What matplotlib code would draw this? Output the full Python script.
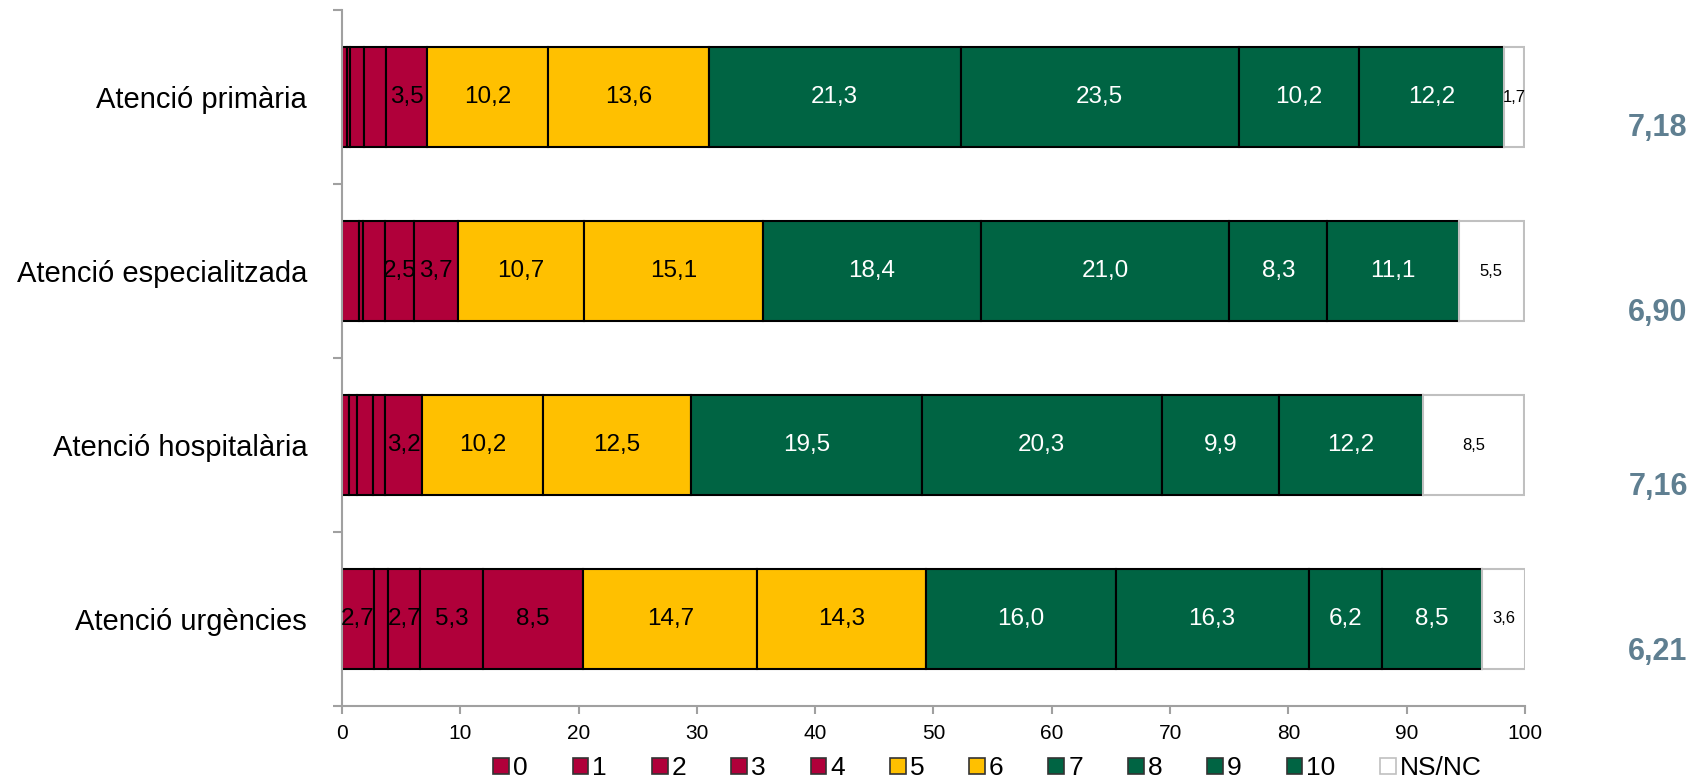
import matplotlib.pyplot as plt
from matplotlib.patches import Patch
from matplotlib.transforms import blended_transform_factory

plt.rcParams['font.family'] = ['Liberation Sans', 'DejaVu Sans']

# Satisfaction scores (0-10 and NS/NC), percentage of respondents per service
categories = ['Atenció primària', 'Atenció especialitzada',
              'Atenció hospitalària', 'Atenció urgències']
scores = ['0', '1', '2', '3', '4', '5', '6', '7', '8', '9', '10', 'NS/NC']
primaria = [0.4, 0.3, 1.2, 1.8, 3.5, 10.2, 13.6, 21.3, 23.5, 10.2, 12.2, 1.7]
especialitzada = [1.4, 0.4, 1.8, 2.5, 3.7, 10.7, 15.1, 18.4, 21.0, 8.3, 11.1, 5.5]
hospitalaria = [0.6, 0.7, 1.3, 1.0, 3.2, 10.2, 12.5, 19.5, 20.3, 9.9, 12.2, 8.5]
urgencies = [2.7, 1.2, 2.7, 5.3, 8.5, 14.7, 14.3, 16.0, 16.3, 6.2, 8.5, 3.6]
means = [7.18, 6.90, 7.16, 6.21]

rows = [primaria, especialitzada, hospitalaria, urgencies]

red, yellow, green = '#B0003A', '#FFC000', '#006443'
colors = [red] * 5 + [yellow] * 2 + [green] * 4 + ['white']
edges = ['black'] * 11 + ['#C0C0C0']
txt_colors = ['black'] * 7 + ['white'] * 4 + ['black']

fig = plt.figure(figsize=(17.03, 7.84), dpi=100)
ax = fig.add_axes([0.2008, 0.0995, 0.6947, 0.8877])

for i, row in enumerate(rows):
    left = 0
    for j, v in enumerate(row):
        ax.barh(i, v, left=left, height=0.575, color=colors[j],
                edgecolor=edges[j], linewidth=1.5)
        if v >= 2 or j == 11:
            fs = 12 if j == 11 else 17.5
            ax.text(left + v / 2, i, f'{v:.1f}'.replace('.', ','),
                    ha='center', va='center', fontsize=fs, color=txt_colors[j])
        left += v

ax.set_xlim(0, 100)
ax.set_ylim(3.5, -0.5)
ax.set_xticks(range(0, 101, 10))
ax.tick_params(axis='x', labelsize=15, length=6, width=1.5, color='#A0A0A0', pad=7)
ax.set_yticks(range(len(categories)))
ax.set_yticklabels(categories, fontsize=21)
ax.tick_params(axis='y', length=0, pad=25)
ax.set_yticks([-0.5, 0.5, 1.5, 2.5, 3.5], minor=True)
ax.tick_params(axis='y', which='minor', length=6.5, width=1.5, color='#A0A0A0')

for s in ['top', 'right']:
    ax.spines[s].set_visible(False)
for s in ['left', 'bottom']:
    ax.spines[s].set_color('#A0A0A0')
    ax.spines[s].set_linewidth(1.5)

# mean score shown at the right of each bar
trans = blended_transform_factory(ax.transAxes, ax.transData)
mean_dy = [0.18, 0.24, 0.24, 0.19]
for i, m in enumerate(means):
    ax.text(1.1124, i + mean_dy[i], f'{m:.2f}'.replace('.', ','),
            transform=trans, ha='center', va='center', fontsize=22,
            fontweight='bold', color='#5F7F91')

handles = [Patch(facecolor=colors[j], edgecolor='#C0C0C0' if j == 11 else '#333333',
                 linewidth=1.2, label=scores[j]) for j in range(len(scores))]
fig.legend(handles=handles, loc='center', bbox_to_anchor=(0.58, 0.02),
           ncol=12, frameon=False, fontsize=19, handlelength=0.6,
           handleheight=0.6, handletextpad=0.15, columnspacing=1.7)

fig.savefig('out.png', dpi=100)
